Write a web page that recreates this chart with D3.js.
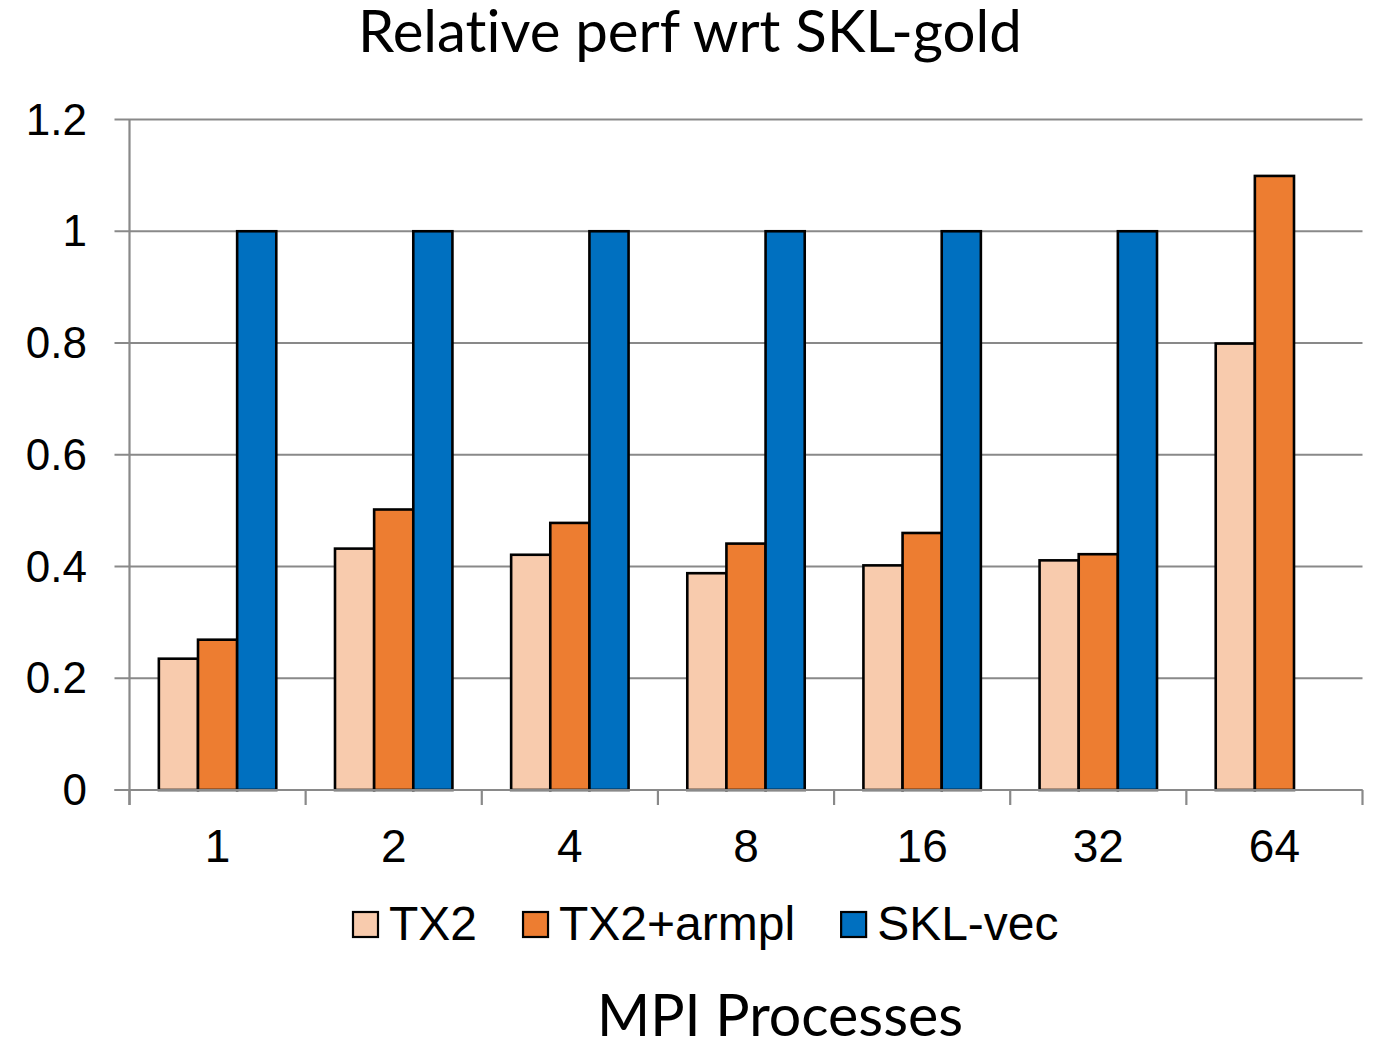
<!DOCTYPE html>
<html>
<head>
<meta charset="utf-8">
<script src="https://cdn.jsdelivr.net/npm/d3@7"></script>
<style>
  html, body { margin: 0; padding: 0; background: #fff; }
  svg { display: block; }
  text { font-variant-ligatures: none; }
</style>
</head>
<body>
<div id="chart"></div>
<script>
// data
const processes = ['1', '2', '4', '8', '16', '32', '64'];
const seriesNames = ['TX2', 'TX2+armpl', 'SKL-vec'];
const tx2 = [0.235, 0.432, 0.421, 0.388, 0.402, 0.411, 0.799];
const tx2Armpl = [0.269, 0.502, 0.478, 0.441, 0.460, 0.422, 1.099];
const sklVec = [1, 1, 1, 1, 1, 1, null];
const yTicks = [0, 0.2, 0.4, 0.6, 0.8, 1, 1.2];
const colors = ['#F8CBAD', '#ED7D31', '#0070C0'];

const W = 1373, H = 1043;
const PLOT = { left: 129.5, right: 1362.5, top: 119.5, bottom: 790 };
const ARIAL = '"Liberation Sans", Arial, sans-serif';
const TITLE_FONT = 'Lato, "Open Sans", sans-serif';
const GRID = '#898989';

const svg = d3.select('#chart').append('svg')
  .attr('width', W).attr('height', H);

const series = [tx2, tx2Armpl, sklVec];
const rows = processes.map((p, i) => ({
  p, vals: series.map((s, k) => ({ k, v: s[i] }))
}));

const x0 = d3.scaleBand().domain(processes).range([PLOT.left, PLOT.right]).padding(0);
const x1 = d3.scaleBand().domain(d3.range(seriesNames.length))
  .range([0, x0.bandwidth()]).paddingInner(0).paddingOuter(0.75);
const y = d3.scaleLinear().domain([0, 1.2]).range([PLOT.bottom, PLOT.top]);

// gridlines + left tick marks
svg.append('g').selectAll('line')
  .data(yTicks)
  .join('line')
  .attr('x1', PLOT.left - 15).attr('x2', PLOT.right)
  .attr('y1', d => y(d)).attr('y2', d => y(d))
  .attr('stroke', GRID).attr('stroke-width', 2.2);

// y axis line
svg.append('line')
  .attr('x1', PLOT.left).attr('x2', PLOT.left)
  .attr('y1', PLOT.top).attr('y2', PLOT.bottom + 15)
  .attr('stroke', GRID).attr('stroke-width', 2.2);

// x category tick marks
const boundaries = processes.map(p => x0(p)).concat([PLOT.right]);
svg.append('g').selectAll('line')
  .data(boundaries)
  .join('line')
  .attr('x1', d => d).attr('x2', d => d)
  .attr('y1', PLOT.bottom).attr('y2', PLOT.bottom + 15)
  .attr('stroke', GRID).attr('stroke-width', 2.2);

// bars
svg.append('g').selectAll('g')
  .data(rows)
  .join('g')
  .attr('transform', d => `translate(${x0(d.p)},0)`)
  .selectAll('rect')
  .data(d => d.vals.filter(e => e.v != null))
  .join('rect')
  .attr('x', d => x1(d.k))
  .attr('width', x1.bandwidth())
  .attr('y', d => y(d.v))
  .attr('height', d => y(0) - y(d.v))
  .attr('fill', d => colors[d.k])
  .attr('stroke', '#000')
  .attr('stroke-width', 2.6);

// baseline over bars
svg.append('line')
  .attr('x1', PLOT.left - 15).attr('x2', PLOT.right)
  .attr('y1', PLOT.bottom).attr('y2', PLOT.bottom)
  .attr('stroke', GRID).attr('stroke-width', 2.2);

// y labels
svg.append('g').selectAll('text')
  .data(yTicks)
  .join('text')
  .attr('x', 87)
  .attr('y', d => y(d) + 15)
  .attr('text-anchor', 'end')
  .attr('font-family', ARIAL)
  .attr('font-size', 44)
  .attr('fill', '#000')
  .text(d => d3.format('~g')(d));

// x labels
svg.append('g').selectAll('text')
  .data(processes)
  .join('text')
  .attr('x', d => x0(d) + x0.bandwidth() / 2)
  .attr('y', 862)
  .attr('text-anchor', 'middle')
  .attr('font-family', ARIAL)
  .attr('font-size', 46)
  .attr('fill', '#000')
  .text(d => d);

// title, fitted to the reference width
const title = svg.append('text')
  .attr('x', 690).attr('y', 52)
  .attr('text-anchor', 'middle')
  .attr('font-family', TITLE_FONT)
  .attr('font-size', 54)
  .attr('fill', '#000')
  .text('Relative perf wrt SKL-gold');
const tw = title.node().getComputedTextLength();
title.attr('font-size', 54 * 664 / tw);

const xTitle = svg.append('text')
  .attr('x', 780).attr('y', 1036)
  .attr('text-anchor', 'middle')
  .attr('font-family', TITLE_FONT)
  .attr('font-size', 54)
  .attr('fill', '#000')
  .text('MPI Processes');
const xw = xTitle.node().getComputedTextLength();
xTitle.attr('font-size', 54 * 366 / xw);

// legend
let lx = 353;
seriesNames.forEach((name, k) => {
  svg.append('rect')
    .attr('x', lx).attr('y', 912)
    .attr('width', 25).attr('height', 25)
    .attr('fill', colors[k])
    .attr('stroke', '#000').attr('stroke-width', 2.2);
  const t = svg.append('text')
    .attr('x', lx + 36).attr('y', 940)
    .attr('font-family', ARIAL)
    .attr('font-size', 48)
    .attr('fill', '#000')
    .text(name);
  lx += 36 + t.node().getComputedTextLength() + 46;
});
</script>
</body>
</html>
